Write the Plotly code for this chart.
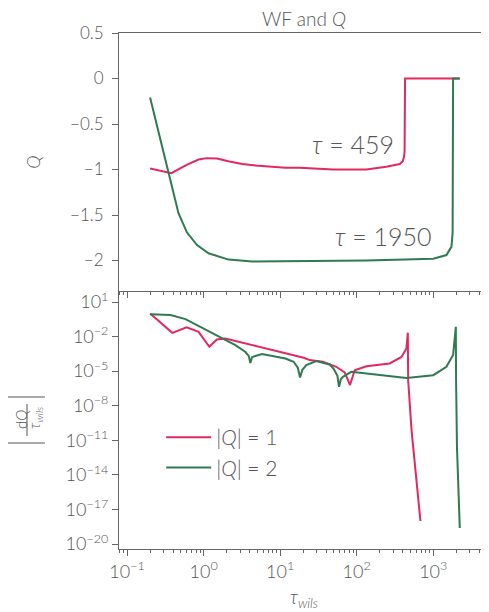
import plotly.graph_objects as go

# ---------------- data ----------------
tau_q1 = [0.20, 0.38, 0.60, 0.86, 1.10, 1.50, 2.10, 3.20, 5.20, 11.7, 18.0, 32.0, 49.0, 134.0, 244.0, 365.0, 400.0, 415.0, 422.0, 428.0, 2220.0]
q1 = [-0.99, -1.04, -0.95, -0.89, -0.875, -0.88, -0.91, -0.94, -0.96, -0.98, -0.98, -0.99, -1.00, -1.00, -0.97, -0.94, -0.91, -0.86, -0.80, 0.0, 0.0]

tau_q2 = [0.20, 0.35, 0.47, 0.605, 0.82, 1.16, 1.60, 2.12, 4.30, 31.8, 134.0, 1000.0, 1486.0, 1727.0, 1790.0, 1815.0, 2220.0]
q2 = [-0.21, -1.03, -1.48, -1.69, -1.83, -1.92, -1.96, -1.99, -2.01, -2.00, -2.00, -1.98, -1.94, -1.85, -1.70, 0.0, 0.0]

tau_d1 = [0.20, 0.39, 0.60, 0.86, 1.19, 1.49, 1.92, 13.3, 20.3, 24.3, 36.0, 54.0, 69.6, 81.8, 94.0, 134.0, 270.0, 384.0, 446.0, 465.0, 470.0, 520.0, 680.0]
d1 = [1.0, 2.1e-2, 6.3e-2, 2.6e-2, 1.3e-3, 5.6e-3, 6.9e-3, 2.8e-4, 1.45e-4, 9.1e-5, 6.5e-5, 2.4e-5, 7.8e-6, 6.3e-7, 1.2e-5, 2.7e-5, 4.7e-5, 1.7e-4, 9.3e-4, 2.2e-2, 1.6e-6, 7.9e-11, 1.0e-18]

tau_d2 = [0.20, 0.37, 0.58, 0.95, 1.57, 2.60, 3.50, 3.90, 4.08, 4.30, 4.74, 5.80, 11.7, 15.0, 17.0, 18.2, 19.5, 22.0, 29.6, 44.4, 50.0, 56.0, 58.8, 62.0, 66.0, 85.0, 164.0, 446.0, 1000.0, 1486.0, 1815.0, 1970.0, 1986.0, 2040.0, 2220.0]
d2 = [0.85, 0.74, 0.33, 5.9e-2, 9.8e-3, 1.8e-3, 4.8e-4, 2.0e-4, 5.2e-5, 1.6e-4, 2.1e-4, 3.0e-4, 1.26e-4, 6.5e-5, 2.0e-5, 2.8e-6, 1.3e-5, 3.3e-5, 7.4e-5, 3.8e-5, 1.6e-5, 4.0e-6, 4.4e-7, 2.0e-6, 3.2e-6, 8.7e-6, 5.5e-6, 2.6e-6, 4.5e-6, 2.4e-5, 2.5e-4, 7.1e-2, 1.6e-6, 2.5e-12, 2.5e-19]

series_names = ["|<i>Q</i>| = 1", "|<i>Q</i>| = 2"]
step_labels = ["<i>τ</i> = 459", "<i>τ</i> = 1950"]

x_tick_vals = [0.1, 1, 10, 100, 1000]
x_tick_text = ["10<sup>−1</sup>", "10<sup>0</sup>", "10<sup>1</sup>", "10<sup>2</sup>", "10<sup>3</sup>"]
q_tick_vals = [0.5, 0, -0.5, -1, -1.5, -2]
q_tick_text = ["0.5", "0", "−0.5", "−1", "−1.5", "−2"]
d_tick_vals = [1e1, 1e-2, 1e-5, 1e-8, 1e-11, 1e-14, 1e-17, 1e-20]
d_tick_text = ["10<sup>1</sup>", "10<sup>−2</sup>", "10<sup>−5</sup>", "10<sup>−8</sup>",
               "10<sup>−11</sup>", "10<sup>−14</sup>", "10<sup>−17</sup>", "10<sup>−20</sup>"]

# ---------------- style ----------------
RED = "#e2295f"
GREEN = "#2f7a50"
TXT = "#555555"
AX = "#666666"
FONT = "Lato"

fig = go.Figure()
fig.add_trace(go.Scatter(x=tau_q1, y=q1, mode="lines", line=dict(color=RED, width=2),
                         xaxis="x", yaxis="y", showlegend=False))
fig.add_trace(go.Scatter(x=tau_q2, y=q2, mode="lines", line=dict(color=GREEN, width=2),
                         xaxis="x", yaxis="y", showlegend=False))
fig.add_trace(go.Scatter(x=tau_d1, y=d1, mode="lines", line=dict(color=RED, width=2),
                         xaxis="x2", yaxis="y2", name=series_names[0]))
fig.add_trace(go.Scatter(x=tau_d2, y=d2, mode="lines", line=dict(color=GREEN, width=2),
                         xaxis="x2", yaxis="y2", name=series_names[1]))

xr = [-1.105, 3.728]
common_x = dict(type="log", range=xr, showgrid=False, zeroline=False, showline=True,
                automargin=False,
                linecolor=AX, linewidth=1, ticks="outside", ticklen=6, tickcolor=AX,
                tickvals=x_tick_vals, tickfont=dict(size=18),
                minor=dict(dtick="D1", ticks="outside", ticklen=3, tickcolor=AX, showgrid=False))

# page has an 8px body margin: figure is 481x604 so the plot area lands at 119..489, 33..549
fig.update_layout(
    template="none",
    width=481, height=604,
    margin=dict(l=111, r=0, t=25, b=63, autoexpand=False),
    paper_bgcolor="white", plot_bgcolor="white",
    font=dict(family=FONT, size=17, color=TXT, weight=300),
    title=dict(text="WF and <i>Q</i>", xref="paper", x=0.5, xanchor="center", y=0.981,
               yanchor="middle", yref="container",
               font=dict(size=19, family=FONT, color=TXT, weight=300)),
    xaxis=dict(common_x, domain=[0, 1], anchor="y", showticklabels=False, mirror=True),
    yaxis=dict(domain=[0.5, 1], anchor="x", range=[-2.335, 0.5], tickvals=q_tick_vals,
               ticktext=q_tick_text, showgrid=False, zeroline=False, showline=True,
               automargin=False, tickfont=dict(size=17), ticklabelstandoff=5,
               linecolor=AX, linewidth=1, ticks="outside", ticklen=6, tickcolor=AX,
               title=dict(text="<i>Q</i>", standoff=24, font=dict(size=18))),
    xaxis2=dict(common_x, domain=[0, 1], anchor="y2", ticktext=x_tick_text, matches="x",
                title=dict(text="<i>τ<sub>wils</sub></i>", standoff=10, font=dict(size=19))),
    yaxis2=dict(domain=[0, 0.5], anchor="x2", type="log", range=[-20.43, 1.955],
                tickvals=d_tick_vals, ticktext=d_tick_text, showgrid=False, zeroline=False,
                automargin=False, tickfont=dict(size=18),
                showline=True, linecolor=AX, linewidth=1, ticks="outside", ticklen=6,
                tickcolor=AX),
    legend=dict(x=0.114, y=0.187, xanchor="left", yanchor="middle", bgcolor="rgba(0,0,0,0)",
                font=dict(size=21, color=TXT), itemwidth=45),
    annotations=[
        dict(text=step_labels[0], x=2.51, y=-0.725, xref="x", yref="y", xanchor="right",
             yanchor="middle", showarrow=False, font=dict(size=25, color=TXT)),
        dict(text=step_labels[1], x=3.005, y=-1.73, xref="x", yref="y", xanchor="right",
             yanchor="middle", showarrow=False, font=dict(size=25, color=TXT)),
        dict(text="d<i>Q</i>", textangle=-90, x=-98 / 370, y=(549 - 420) / 516, xref="paper",
             yref="paper", xanchor="center", yanchor="middle", showarrow=False,
             font=dict(size=15, color=TXT)),
        dict(text="<i>τ<sub>wils</sub></i>", textangle=-90, x=-84 / 370, y=(549 - 418) / 516,
             xref="paper", yref="paper", xanchor="center", yanchor="middle", showarrow=False,
             font=dict(size=15, color=TXT)),
    ],
    shapes=[
        dict(type="line", xref="paper", yref="paper", x0=-92 / 370, x1=-92 / 370,
             y0=(549 - 404) / 516, y1=(549 - 436) / 516, line=dict(color=TXT, width=1)),
        dict(type="line", xref="paper", yref="paper", x0=-112 / 370, x1=-74 / 370,
             y0=(549 - 397) / 516, y1=(549 - 397) / 516, line=dict(color=TXT, width=1)),
        dict(type="line", xref="paper", yref="paper", x0=-112 / 370, x1=-74 / 370,
             y0=(549 - 443) / 516, y1=(549 - 443) / 516, line=dict(color=TXT, width=1)),
    ],
)

fig.write_html("out.html")
